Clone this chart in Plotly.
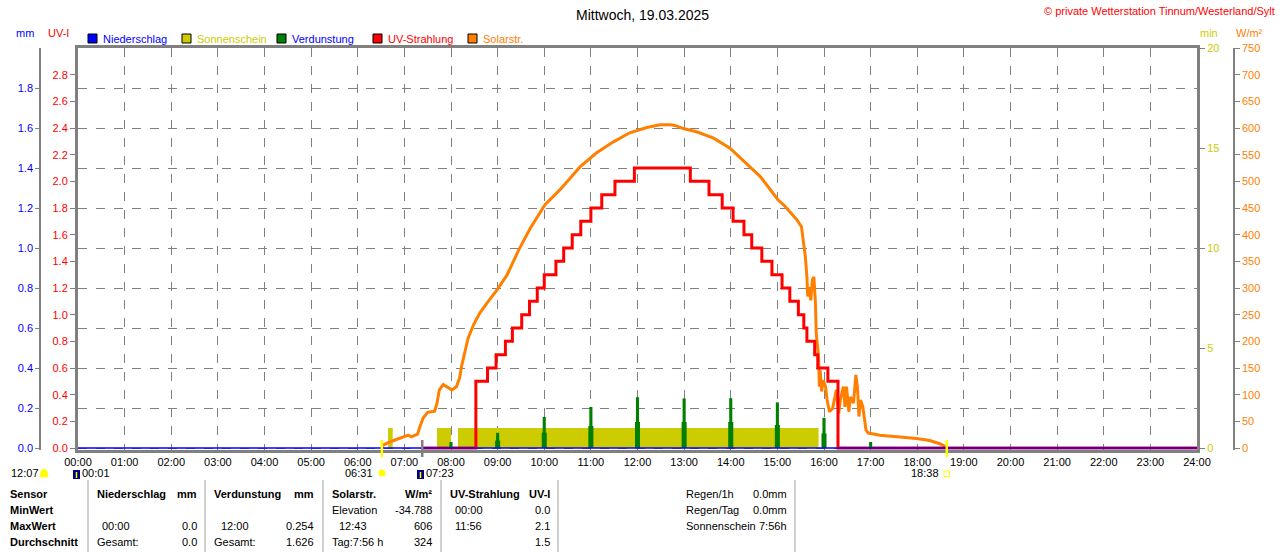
import plotly.graph_objects as go

# all times are minutes after midnight
hour_ticks = [0, 60, 120, 180, 240, 300, 360, 420, 480, 540, 600, 660, 720,
              780, 840, 900, 960, 1020, 1080, 1140, 1200, 1260, 1320, 1380, 1440]
hour_labels = ["00:00", "01:00", "02:00", "03:00", "04:00", "05:00", "06:00", "07:00",
               "08:00", "09:00", "10:00", "11:00", "12:00", "13:00", "14:00", "15:00",
               "16:00", "17:00", "18:00", "19:00", "20:00", "21:00", "22:00", "23:00", "24:00"]

# Solarstrahlung W/m2
solar_min = [391, 399, 408, 419, 425, 429, 437, 440, 444, 450, 459, 462, 465, 470, 475,
             481, 487, 491, 494, 498, 502, 509, 517, 526, 539, 552, 560, 567, 582, 601,
             620, 646, 667, 689, 710, 732, 749, 763, 770, 779, 796, 818, 839, 860, 878,
             901, 908, 916, 925, 931, 933, 936, 938, 939, 941, 943, 945, 947, 949, 950,
             953, 954, 955, 957, 959, 962, 964, 967, 971, 974, 976, 979, 981, 985, 987,
             989, 992, 994, 998, 1001, 1003, 1005, 1007, 1010, 1011, 1014, 1017, 1032,
             1054, 1079, 1096, 1109, 1117, 1118]
solar_wm2 = [4, 10, 15, 20, 24, 21, 26, 40, 56, 67, 69, 84, 109, 119, 115,
             109, 115, 131, 156, 184, 206, 231, 253, 271, 296, 324, 349, 371, 412, 456,
             484, 527, 553, 574, 591, 601, 606, 606, 604, 599, 593, 581, 562, 534, 509,
             465, 456, 443, 428, 415, 390, 359, 321, 284, 302, 277, 315, 321, 271, 215,
             171, 115, 146, 106, 127, 115, 90, 68, 74, 96, 109, 65, 90, 115, 77,
             115, 68, 96, 84, 137, 115, 59, 90, 77, 65, 34, 28, 24,
             21, 18, 14, 8, 2, 0]

# UV-Index (step)
uv_min = [443, 512, 527, 538, 550, 559, 571, 581, 591, 600, 615, 625, 636, 647, 660, 674,
          691, 716, 788, 812, 829, 843, 857, 867, 880, 893, 906, 916, 927, 934, 938, 948,
          952, 965, 978, 1440]
uv_val = [0.0, 0.5, 0.6, 0.7, 0.8, 0.9, 1.0, 1.1, 1.2, 1.3, 1.4, 1.5, 1.6, 1.7, 1.8, 1.9,
          2.0, 2.1, 2.0, 1.9, 1.8, 1.7, 1.6, 1.5, 1.4, 1.3, 1.2, 1.1, 1.0, 0.9, 0.8, 0.7,
          0.6, 0.5, 0.0, 0.0]

# Sonnenschein min/min
sun_min = [399, 405, 462, 480, 489, 953]
sun_val = [1, 0, 1, 0, 1, 0]

# Verdunstung mm
evap_min = [480, 540, 600, 660, 720, 780, 840, 900, 960, 1020]
evap_mm = [0.030, 0.076, 0.155, 0.205, 0.254, 0.248, 0.249, 0.228, 0.151, 0.030]
evap_low = [0.0, 0.037, 0.077, 0.110, 0.130, 0.130, 0.130, 0.115, 0.073, 0.0]

# Niederschlag mm
rain_min = [0, 1440]
rain_mm = [0.0, 0.0]

mm_ticks = [0.0, 0.2, 0.4, 0.6, 0.8, 1.0, 1.2, 1.4, 1.6, 1.8]
uv_ticks = [0.0, 0.2, 0.4, 0.6, 0.8, 1.0, 1.2, 1.4, 1.6, 1.8, 2.0, 2.2, 2.4, 2.6, 2.8]
min_ticks = [0, 5, 10, 15, 20]
wm2_ticks = [0, 50, 100, 150, 200, 250, 300, 350, 400, 450, 500, 550, 600, 650, 700, 750]

sunrise, dawn, sunset = 391, 443, 1118

BLUE = "#0000ff"
RED = "#ff0000"
YEL = "#cccc00"
ORA = "#ff8000"
GRN = "#008000"
GRAY = "#808080"
FONT = "Liberation Sans, Arial, sans-serif"

W, H = 1280, 552
TOP, BOT = 48, 450   # plot area in pixels


def px(x):
    return x / W


def py(y):
    return (BOT - y) / (BOT - TOP)


fig = go.Figure()

# y: Sonnenschein (min), y2: Solarstr., y3: UV, y4: mm  (later axes draw on top)
fig.add_trace(go.Scatter(x=sun_min, y=sun_val, yaxis="y", mode="lines",
                         line=dict(shape="hv", width=0, color=YEL),
                         fill="tozeroy", fillcolor=YEL, hoverinfo="skip"))
fig.add_trace(go.Scatter(x=solar_min, y=solar_wm2, yaxis="y2", mode="lines",
                         line=dict(color=ORA, width=3)))
fig.add_trace(go.Scatter(x=uv_min, y=uv_val, yaxis="y3", mode="lines",
                         line=dict(color=RED, width=3, shape="hv")))
fig.add_trace(go.Bar(x=evap_min, y=evap_low, width=6.5, yaxis="y4",
                     marker=dict(color=GRN, line=dict(width=0))))
fig.add_trace(go.Bar(x=evap_min, y=evap_mm, width=4, yaxis="y4",
                     marker=dict(color=GRN, line=dict(width=0))))
fig.add_trace(go.Scatter(x=rain_min, y=rain_mm, yaxis="y4", mode="lines",
                         line=dict(color=BLUE, width=1.5)))


# every axis starts 2px below its zero so the zero lines are not clipped
def rng(top):
    return [-top * 2 / (BOT - TOP - 2), top]


ax_common = dict(showgrid=False, zeroline=False, ticks="outside", tickcolor=GRAY,
                 fixedrange=True, overlaying="y")

fig.update_layout(
    width=W, height=H,
    margin=dict(l=0, r=0, t=TOP, b=H - BOT, autoexpand=False),
    paper_bgcolor="white", plot_bgcolor="white",
    showlegend=False, barmode="overlay",
    font=dict(family=FONT, size=11, color="black"),
    xaxis=dict(domain=[78 / W, 1197 / W], range=[0, 1440], tickvals=hour_ticks,
               ticktext=hour_labels, showgrid=True, gridcolor=GRAY, griddash="dash",
               gridwidth=1, showline=True, mirror=True, linecolor=GRAY, linewidth=3,
               ticks="", zeroline=False, tickfont=dict(size=11, color="black"),
               fixedrange=True),
    yaxis=dict(anchor="x", side="right", range=rng(20), tickvals=min_ticks,
               tickfont=dict(color=YEL), ticks="outside", ticklen=5, tickcolor=GRAY,
               showline=True, linecolor=GRAY, linewidth=3, showgrid=False,
               zeroline=False, fixedrange=True),
    yaxis2=dict(ax_common, anchor="free", position=1234 / W, side="right", range=rng(750),
                tickvals=wm2_ticks, tickfont=dict(color=ORA), ticklen=5, showline=True,
                linecolor=GRAY, linewidth=1.5),
    yaxis3=dict(ax_common, anchor="x", side="left", range=rng(3), tickvals=uv_ticks,
                tickformat=".1f", tickfont=dict(color=RED), ticklen=5, showline=True,
                linecolor=GRAY, linewidth=3),
    yaxis4=dict(ax_common, anchor="free", position=40 / W, side="left", range=rng(2),
                tickvals=mm_ticks, tickformat=".1f", tickfont=dict(color=BLUE), ticklen=4,
                showline=True, linecolor=GRAY, linewidth=1.5),
)
# horizontal grid follows the mm scale
fig.update_layout(yaxis4=dict(showgrid=True, gridcolor=GRAY, griddash="dash", gridwidth=1))


def txt(x, y, s, anchor="left", color="black", size=11, bold=False):
    if bold:
        s = "<b>" + s + "</b>"
    fig.add_annotation(x=px(x), y=py(y), xref="paper", yref="paper", text=s,
                       showarrow=False, xanchor=anchor, yanchor="middle",
                       font=dict(family=FONT, size=size, color=color))


txt(642, 15, "Mittwoch, 19.03.2025", anchor="center", size=14)
txt(1277, 11, "© private Wetterstation Tinnum/Westerland/Sylt", anchor="right", color=RED)
txt(14, 33, "mm", color=BLUE)
txt(46, 33, "UV-I", color=RED)
txt(1198, 33, "min", color=YEL)
txt(1234, 33, "W/m²", color=ORA)

# legend
legend = [("Niederschlag", BLUE, BLUE, 88), ("Sonnenschein", YEL, YEL, 182),
          ("Verdunstung", GRN, BLUE, 277), ("UV-Strahlung", RED, RED, 373),
          ("Solarstr.", ORA, ORA, 468)]
for name, box, col, x0 in legend:
    fig.add_shape(type="rect", xref="paper", yref="paper", x0=px(x0), x1=px(x0 + 9),
                  y0=py(43), y1=py(34), fillcolor=box, line=dict(color="black", width=1))
    txt(x0 + 13, 38.5, name, color=col)

# sunrise / sunset markers on the time axis
for t, c in [(sunrise, "#ffff00"), (dawn, GRAY), (sunset, "#ffff00")]:
    fig.add_shape(type="line", xref="x", yref="paper", x0=t, x1=t, y0=py(440), y1=py(457),
                  line=dict(color=c, width=2.5))

# small icons + times below the axis
txt(9, 473, "12:07")
fig.add_shape(type="path", xref="paper", yref="paper",
              path="M %f,%f Q %f,%f %f,%f Q %f,%f %f,%f Z" % (
                  px(40), py(477), px(40), py(469), px(44), py(469),
                  px(48), py(469), px(48), py(477)),
              fillcolor="#ffff00", line=dict(color="#ffff00", width=0.5))
for x0 in [73, 417]:
    fig.add_shape(type="rect", xref="paper", yref="paper", x0=px(x0), x1=px(x0 + 7),
                  y0=py(479), y1=py(470), fillcolor="#000080", line=dict(width=0))
    fig.add_shape(type="line", xref="paper", yref="paper", x0=px(x0 + 3.5), x1=px(x0 + 3.5),
                  y0=py(478), y1=py(472), line=dict(color="#ffff00", width=1.5))
txt(80, 473, "00:01")
txt(375, 473, "06:31", anchor="right")
fig.add_shape(type="circle", xref="paper", yref="paper", x0=px(378.5), x1=px(385.5),
              y0=py(476.5), y1=py(469.5), fillcolor="#ffff00", line=dict(width=0))
txt(424, 473, "07:23")
txt(941, 473, "18:38", anchor="right")
fig.add_shape(type="rect", xref="paper", yref="paper", x0=px(944), x1=px(949.5),
              y0=py(476.5), y1=py(471), fillcolor="white", line=dict(color="#ffff00", width=1))

# table below the chart
for x in [88, 205, 323, 441, 558, 795]:
    fig.add_shape(type="line", xref="paper", yref="paper", x0=px(x), x1=px(x),
                  y0=py(480), y1=py(552), line=dict(color="#a0a0a0", width=1))

rows = [494, 510, 526, 542]
for y, s in zip(rows, ["Sensor", "MinWert", "MaxWert", "Durchschnitt"]):
    txt(8, y, s, bold=True)

txt(95, 494, "Niederschlag", bold=True)
txt(199, 494, "mm", anchor="right", bold=True)
txt(100, 526, "00:00")
txt(199, 526, "0.0", anchor="right")
txt(95, 542, "Gesamt:")
txt(199, 542, "0.0", anchor="right")

txt(212, 494, "Verdunstung", bold=True)
txt(316, 494, "mm", anchor="right", bold=True)
txt(219, 526, "12:00")
txt(316, 526, "0.254", anchor="right")
txt(212, 542, "Gesamt:")
txt(316, 542, "1.626", anchor="right")

txt(330, 494, "Solarstr.", bold=True)
txt(434, 494, "W/m²", anchor="right", bold=True)
txt(330, 510, "Elevation")
txt(434, 510, "-34.788", anchor="right")
txt(337, 526, "12:43")
txt(434, 526, "606", anchor="right")
txt(330, 542, "Tag:7:56 h")
txt(434, 542, "324", anchor="right")

txt(448, 494, "UV-Strahlung", bold=True)
txt(552, 494, "UV-I", anchor="right", bold=True)
txt(453, 510, "00:00")
txt(552, 510, "0.0", anchor="right")
txt(453, 526, "11:56")
txt(552, 526, "2.1", anchor="right")
txt(552, 542, "1.5", anchor="right")

txt(684, 494, "Regen/1h")
txt(789, 494, "0.0mm", anchor="right")
txt(684, 510, "Regen/Tag")
txt(789, 510, "0.0mm", anchor="right")
txt(684, 526, "Sonnenschein")
txt(789, 526, "7:56h", anchor="right")

fig.write_html("out.html", config={"displayModeBar": False},
               post_script="document.body.style.margin = '0px';")
